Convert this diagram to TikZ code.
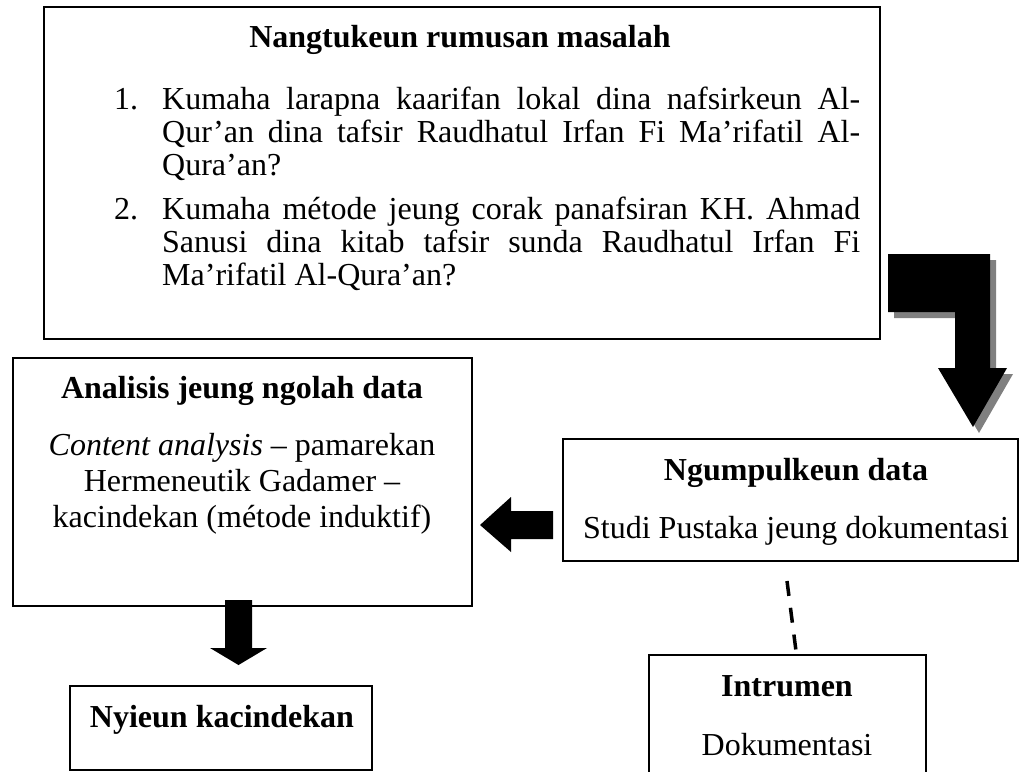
\documentclass[tikz,border=0pt]{standalone}
\usepackage{fontspec}
\setmainfont{Liberation Serif}
\begin{document}
\begin{tikzpicture}[x=1pt,y=-1pt,
  box/.style={draw, line width=1.5pt, inner sep=0pt, outer sep=0pt},
  txt/.style={anchor=base, inner sep=0pt, font=\fontsize{32}{33}\selectfont},
  ltxt/.style={txt, anchor=base west},
  blockarrow/.style={fill=black, draw=none},
  shadowarrow/.style={fill=gray, draw=none},
  dashline/.style={line width=3.5pt, dash pattern=on 15pt off 12pt}]
\useasboundingbox (0,0) rectangle (1019,771);

% boxes
\node[box, minimum width=836pt, minimum height=332pt] (topbox) at (462,173) {};
\node[box, minimum width=459pt, minimum height=248pt] (anbox) at (242.5,482) {};
\node[box, minimum width=455pt, minimum height=122pt] (ngbox) at (790.5,500) {};
\node[box, minimum width=277pt, minimum height=145pt] (inbox) at (787.5,727.5) {};
\node[box, minimum width=302pt, minimum height=84pt] (nybox) at (221,728) {};

% top box text
\node[txt] (t0) at (460,47) {\textbf{Nangtukeun rumusan masalah}};
\node[ltxt] (n1) at (114,109) {1.};
\node[ltxt] (n2) at (114,219) {2.};
\node[ltxt] (l1) at (162,109) {\makebox[698pt][s]{Kumaha larapna kaarifan lokal dina nafsirkeun Al-}};
\node[ltxt] (l2) at (162,142) {\makebox[698pt][s]{Qur’an dina tafsir Raudhatul Irfan Fi Ma’rifatil Al-}};
\node[ltxt] (l3) at (162,175) {Qura’an?};
\node[ltxt] (l4) at (162,219) {\makebox[698pt][s]{Kumaha métode jeung corak panafsiran KH. Ahmad}};
\node[ltxt] (l5) at (162,252) {\makebox[698pt][s]{Sanusi dina kitab tafsir sunda Raudhatul Irfan Fi}};
\node[ltxt] (l6) at (162,285) {Ma’rifatil Al-Qura’an?};

% analisis box text
\node[txt] (a0) at (242,398) {\textbf{Analisis jeung ngolah data}};
\node[txt] (a1) at (242,455) {\textit{Content analysis} – pamarekan};
\node[txt] (a2) at (242,491) {Hermeneutik Gadamer –};
\node[txt] (a3) at (242,527) {kacindekan (métode induktif)};

% ngumpulkeun box text
\node[txt] (g0) at (796,480) {\textbf{Ngumpulkeun data}};
\node[txt] (g1) at (796,538) {Studi Pustaka jeung dokumentasi};

% intrumen box text
\node[txt] (i0) at (787,696) {\textbf{Intrumen}};
\node[txt] (i1) at (787,755) {Dokumentasi};

% nyieun box text
\node[txt] (k0) at (222,727) {\textbf{Nyieun kacindekan}};

% bent block arrow with shadow
\fill[shadowarrow, shift={(6,6)}] (888,254) -- (990,254) -- (990,368) -- (1007,368) -- (973,427) -- (938,368) -- (955,368) -- (955,312) -- (888,312) -- cycle;
\fill[blockarrow] (888,254) -- (990,254) -- (990,368) -- (1007,368) -- (973,427) -- (938,368) -- (955,368) -- (955,312) -- (888,312) -- cycle;

% left block arrow
\fill[blockarrow] (480,525) -- (511,497) -- (511,511) -- (553,511) -- (553,539) -- (511,539) -- (511,552) -- cycle;

% down block arrow
\fill[blockarrow] (225,600) -- (252,600) -- (252,648) -- (267,648) -- (238.5,665) -- (210,648) -- (225,648) -- cycle;

% dashed connector
\coordinate (d1) at (787,581);
\coordinate (d2) at (796,651);
\draw[dashline] (d1) -- (d2);
\end{tikzpicture}
\end{document}
